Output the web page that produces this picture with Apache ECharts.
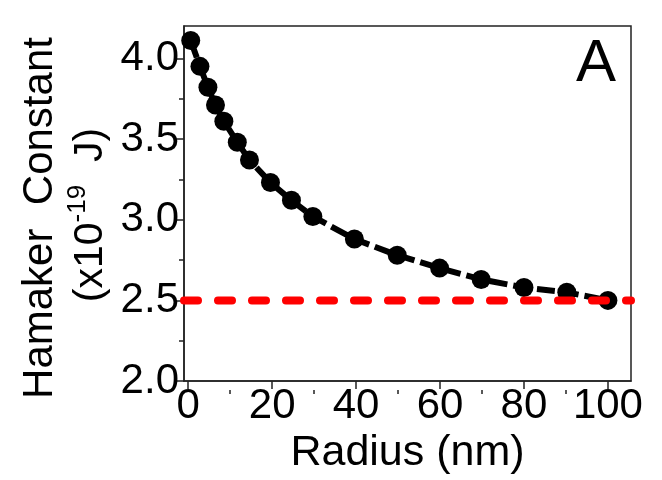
<!DOCTYPE html>
<html>
<head>
<meta charset="utf-8">
<script src="https://cdn.jsdelivr.net/npm/echarts@6/dist/echarts.min.js"></script>
<style>
html,body{margin:0;padding:0;background:#fff;}
#chart{width:662px;height:480px;}
</style>
</head>
<body>
<div id="chart"></div>
<script>
// Data
var radius = [0.6, 2.8, 4.7, 6.5, 8.5, 11.7, 14.6, 19.6, 24.6, 29.7, 39.6, 49.8, 59.9, 69.8, 80, 90.2, 100];
var hamaker = [4.11, 3.95, 3.82, 3.71, 3.61, 3.48, 3.37, 3.23, 3.12, 3.02, 2.88, 2.78, 2.70, 2.63, 2.58, 2.55, 2.50];
var refLineX = [-1, 105.5];
var refLineY = [2.5, 2.5];
var xMajorTicks = [0, 20, 40, 60, 80, 100];
var xMinorTicks = [10, 30, 50, 70, 90];
var yMajorTicks = [2.0, 2.5, 3.0, 3.5, 4.0];
var yMinorTicks = [2.25, 2.75, 3.25, 3.75];

var FONT = 'Liberation Sans, Arial, sans-serif';
var GRID = { left: 184, right: 31, top: 26, bottom: 90 };
var W = 662, H = 480;
var gridW = W - GRID.left - GRID.right;
var gridH = H - GRID.top - GRID.bottom;

var chart = echarts.init(document.getElementById('chart'));

function pairs(xs, ys) { return xs.map(function (x, i) { return [x, ys[i]]; }); }

var option = {
  backgroundColor: '#fff',
  animation: false,
  grid: { left: GRID.left, right: GRID.right, top: GRID.top, bottom: GRID.bottom, show: true, borderColor: '#222', borderWidth: 1.5, backgroundColor: 'transparent' },
  xAxis: [{
    type: 'value', min: -1, max: 105.5, position: 'bottom',
    name: 'Radius (nm)', nameLocation: 'middle', nameGap: 43,
    nameTextStyle: { fontFamily: FONT, fontSize: 43, color: '#000' },
    axisLine: { show: true, onZero: false, lineStyle: { color: '#222', width: 1.5 } },
    axisTick: { show: true, inside: false, customValues: xMajorTicks, length: 8, lineStyle: { color: '#222', width: 1.5 } },
    axisLabel: { customValues: xMajorTicks, fontFamily: FONT, fontSize: 42, color: '#000', margin: 4 },
    splitLine: { show: false }
  }, {
    // minor ticks: placed on top, shifted down to the bottom edge
    type: 'value', min: -1, max: 105.5, position: 'top', offset: -gridH,
    axisLine: { show: false, onZero: false },
    axisTick: { show: true, inside: true, customValues: xMinorTicks, length: 4, lineStyle: { color: '#222', width: 1.5 } },
    axisLabel: { show: false },
    splitLine: { show: false }
  }],
  yAxis: [{
    type: 'value', min: 2.0, max: 4.2, position: 'left',
    axisLine: { show: true, onZero: false, lineStyle: { color: '#222', width: 1.5 } },
    axisTick: { show: true, inside: false, customValues: yMajorTicks, length: 8, lineStyle: { color: '#222', width: 1.5 } },
    axisLabel: { customValues: yMajorTicks, fontFamily: FONT, fontSize: 42, color: '#000', margin: 5,
      formatter: function (v) { return v.toFixed(1); } },
    splitLine: { show: false }
  }, {
    // minor ticks: placed on right, shifted to the left edge
    type: 'value', min: 2.0, max: 4.2, position: 'right', offset: -gridW,
    axisLine: { show: false, onZero: false },
    axisTick: { show: true, inside: true, customValues: yMinorTicks, length: 5, lineStyle: { color: '#222', width: 1.5 } },
    axisLabel: { show: false },
    splitLine: { show: false }
  }],
  graphic: [
    {
      type: 'text', x: 40, y: 218, rotation: Math.PI / 2,
      style: { text: 'Hamaker  Constant', font: '42px ' + FONT, fill: '#000', align: 'center', verticalAlign: 'middle' }
    },
    {
      type: 'text', x: 88, y: 215, rotation: Math.PI / 2,
      style: {
        text: '{m|(x10}{s|-19}{m|  J)}', align: 'center', verticalAlign: 'middle',
        rich: {
          m: { fontFamily: FONT, fontSize: 41, fill: '#000', color: '#000', verticalAlign: 'bottom', lineHeight: 46 },
          s: { fontFamily: FONT, fontSize: 26, fill: '#000', color: '#000', verticalAlign: 'top', lineHeight: 46 }
        }
      }
    },
    {
      type: 'text', x: 596, y: 64,
      style: { text: 'A', font: '60px ' + FONT, fill: '#000', align: 'center', verticalAlign: 'middle' }
    }
  ],
  series: [
    {
      type: 'line', data: pairs(radius, hamaker), xAxisIndex: 0, yAxisIndex: 0,
      symbol: 'circle', symbolSize: 19, showSymbol: true,
      itemStyle: { color: '#000' },
      lineStyle: { color: '#000', width: 6, type: [18, 6] },
      z: 2
    },
    {
      type: 'line', data: pairs(refLineX, refLineY), xAxisIndex: 0, yAxisIndex: 0,
      symbol: 'none', clip: true,
      lineStyle: { color: '#ff0000', width: 8, type: [14, 20], cap: 'round' },
      z: 3
    }
  ]
};
chart.setOption(option);
</script>
</body>
</html>
